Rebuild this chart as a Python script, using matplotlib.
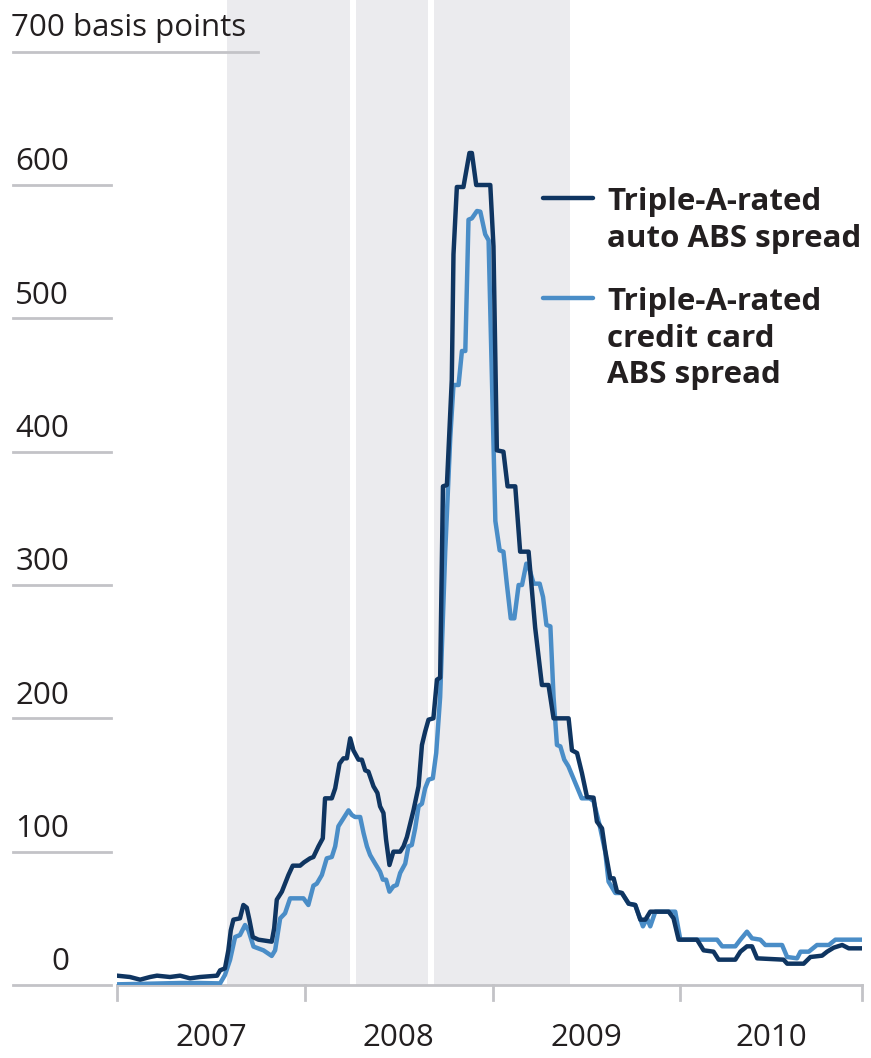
import matplotlib
matplotlib.use("Agg")
import matplotlib.pyplot as plt
from matplotlib.lines import Line2D

plt.rcParams['font.family'] = ['Open Sans', 'DejaVu Sans']

# weekly spreads in basis points, dates as decimal years
auto_dates = [2007.000, 2007.069, 2007.123, 2007.176, 2007.213, 2007.282, 2007.336, 2007.389,
              2007.442, 2007.533, 2007.549, 2007.575, 2007.593, 2007.606, 2007.620, 2007.655,
              2007.673, 2007.691, 2007.705, 2007.723, 2007.753, 2007.824, 2007.837, 2007.851,
              2007.878, 2007.913, 2007.936, 2007.975, 2007.996, 2008.028, 2008.046, 2008.073,
              2008.096, 2008.108, 2008.144, 2008.162, 2008.185, 2008.206, 2008.224, 2008.242,
              2008.259, 2008.286, 2008.304, 2008.322, 2008.339, 2008.366, 2008.387, 2008.401,
              2008.419, 2008.433, 2008.451, 2008.472, 2008.508, 2008.526, 2008.544, 2008.579,
              2008.606, 2008.624, 2008.641, 2008.659, 2008.685, 2008.704, 2008.721, 2008.736,
              2008.757, 2008.783, 2008.792, 2008.810, 2008.845, 2008.877, 2008.890, 2008.913,
              2008.988, 2009.005, 2009.023, 2009.058, 2009.080, 2009.121, 2009.147, 2009.192,
              2009.227, 2009.263, 2009.298, 2009.325, 2009.405, 2009.423, 2009.450, 2009.476,
              2009.503, 2009.538, 2009.556, 2009.583, 2009.600, 2009.627, 2009.645, 2009.663,
              2009.689, 2009.725, 2009.760, 2009.787, 2009.814, 2009.840, 2009.938, 2009.964,
              2009.991, 2010.089, 2010.124, 2010.177, 2010.204, 2010.293, 2010.320, 2010.355,
              2010.382, 2010.409, 2010.550, 2010.569, 2010.657, 2010.693, 2010.755, 2010.782,
              2010.817, 2010.862, 2010.897, 2010.965]
auto_spread = [7, 6, 4, 6, 7, 6, 7, 5,
               6, 7, 11, 12.5, 26, 41, 49, 50,
               60, 58, 49, 36, 34, 32.5, 42.5, 64,
               70, 82.5, 89.5, 89.5, 92, 95, 96, 104,
               110, 140, 140, 147.5, 166, 170, 170, 185,
               176, 169, 169, 161, 160, 149, 144, 134,
               129, 109, 90, 100, 100, 104, 111, 131,
               149, 180, 190, 199, 200, 229, 230.5, 374,
               375, 454, 548, 598.5, 598.5, 624, 624, 600,
               600, 554, 401, 400, 374, 374, 325, 325,
               268, 225, 225, 200, 200, 176, 174, 159,
               141, 140.5, 122.5, 117.5, 101, 80, 80, 70,
               69, 61, 60, 49, 49, 55, 55, 50,
               34, 34, 26, 25, 19, 19, 25, 29,
               29, 20, 19, 16, 16, 21, 22, 25,
               28, 30, 27.5, 27.5]

card_dates = [2007.000, 2007.176, 2007.336, 2007.442, 2007.549, 2007.575, 2007.602, 2007.629,
              2007.655, 2007.682, 2007.700, 2007.727, 2007.780, 2007.824, 2007.842, 2007.869,
              2007.895, 2007.922, 2007.993, 2008.019, 2008.046, 2008.064, 2008.091, 2008.117,
              2008.144, 2008.162, 2008.179, 2008.206, 2008.233, 2008.251, 2008.268, 2008.295,
              2008.313, 2008.331, 2008.348, 2008.375, 2008.401, 2008.416, 2008.433, 2008.451,
              2008.472, 2008.490, 2008.508, 2008.535, 2008.552, 2008.570, 2008.588, 2008.606,
              2008.624, 2008.641, 2008.659, 2008.682, 2008.700, 2008.721, 2008.748, 2008.775,
              2008.792, 2008.819, 2008.837, 2008.855, 2008.872, 2008.890, 2008.917, 2008.935,
              2008.961, 2008.979, 2008.992, 2009.015, 2009.038, 2009.058, 2009.076, 2009.097,
              2009.116, 2009.139, 2009.157, 2009.180, 2009.192, 2009.219, 2009.251, 2009.269,
              2009.287, 2009.308, 2009.325, 2009.343, 2009.361, 2009.382, 2009.404, 2009.475,
              2009.517, 2009.538, 2009.570, 2009.600, 2009.618, 2009.654, 2009.689, 2009.725,
              2009.760, 2009.801, 2009.823, 2009.840, 2009.867, 2009.973, 2010.000, 2010.196,
              2010.223, 2010.293, 2010.320, 2010.355, 2010.382, 2010.426, 2010.453, 2010.542,
              2010.569, 2010.622, 2010.640, 2010.684, 2010.728, 2010.791, 2010.826, 2010.965]
card_spread = [0.5, 1, 1.5, 1.5, 1.2, 7.5, 18.8, 36,
               37.5, 45, 41, 28.8, 26, 21.8, 26, 50,
               53.8, 65, 65, 60, 74.5, 76, 82.5, 95,
               96, 104, 119, 125, 131, 127.5, 126, 126,
               114, 104, 97.5, 91, 85, 79, 79, 70,
               74, 75, 84, 91, 104, 105, 117.5, 134,
               136, 147.5, 154, 155, 174, 216, 325, 411,
               450, 450, 475.5, 475.5, 574, 575, 580.5, 580,
               563, 558.5, 482.5, 348, 326, 325, 301, 275,
               275, 300, 300, 316, 314, 301, 301, 291,
               270, 269, 216, 180, 179, 169, 164, 140,
               140, 138, 120, 100, 77.5, 69, 69, 61,
               60, 44, 50, 44, 55, 55, 34, 34,
               29, 29, 34, 40, 35, 34, 30, 30,
               21, 20, 25, 25, 30, 30, 34, 34]

recessions = [(2007.586, 2008.242), (2008.274, 2008.657), (2008.690, 2009.414)]
yticks = [0, 100, 200, 300, 400, 500, 600]
years = [2007, 2008, 2009, 2010]
x_end = 2010.965

dark = '#0f3561'
light = '#4a8dc7'
grid_c = '#c3c3c7'
txt_c = '#231f20'

W, H = 871, 1058
fig = plt.figure(figsize=(W / 100, H / 100), dpi=100)
ax = fig.add_axes([117 / W, 1 - 985 / H, (861.5 - 117) / W, 985 / H])
ax.set_xlim(2007, x_end)
ax.set_ylim(0, 985 / (800 / 600))
ax.axis('off')

for a, b in recessions:
    ax.axvspan(a, b, color='#ebebee', lw=0, zorder=0)

ax.plot(card_dates, card_spread, color=light, lw=3.2, solid_joinstyle='round', zorder=3)
ax.plot(auto_dates, auto_spread, color=dark, lw=3.2, solid_joinstyle='round', zorder=4)

# short gridlines and labels on the left
ytr = ax.get_yaxis_transform()
gx0, gx1 = (13 - 117) / 744.5, (111 - 117) / 744.5
for v in yticks:
    ax.plot([gx0, gx1], [v, v], transform=ytr, color=grid_c, lw=2, clip_on=False)
    ax.text((69 - 117) / 744.5, v + 11, str(v), transform=ytr, ha='right', va='baseline',
            fontsize=22.5, color=txt_c)
ax.plot([gx0, (258 - 117) / 744.5], [700, 700], transform=ytr, color=grid_c, lw=2,
        clip_on=False, zorder=5)
ax.text((11 - 117) / 744.5, 712, '700 basis points', transform=ytr, ha='left', va='baseline',
        fontsize=22.5, color=txt_c)

# bottom axis with year ticks
ax.plot([2007, x_end], [0, 0], color=grid_c, lw=2, clip_on=False, zorder=2)
xtr = ax.get_xaxis_transform()
for t in years + [x_end]:
    ax.plot([t, t], [0, -15 / 985], transform=xtr, color=grid_c, lw=2, clip_on=False)
edges = years + [x_end]
for i, y in enumerate(years):
    ax.text((edges[i] + edges[i + 1]) / 2, -53 / 985, str(y), transform=xtr, ha='center',
            va='center', fontsize=22.5, color=txt_c)

# legend
def fx(px):
    return px / W

def fy(py):
    return 1 - py / H

fig.add_artist(Line2D([fx(543), fx(593)], [fy(198), fy(198)], color=dark, lw=3.2,
                      solid_capstyle='round'))
fig.add_artist(Line2D([fx(543), fx(593)], [fy(298), fy(298)], color=light, lw=3.2,
                      solid_capstyle='round'))
legend_lines = [('Triple-A-rated', 210), ('auto ABS spread', 246.5),
                ('Triple-A-rated', 310), ('credit card', 346.5), ('ABS spread', 383)]
for s, base in legend_lines:
    fig.text(fx(607), fy(base), s, ha='left', va='baseline', fontsize=22.5,
             fontweight='bold', color=txt_c)

fig.savefig('out.png', dpi=100)
